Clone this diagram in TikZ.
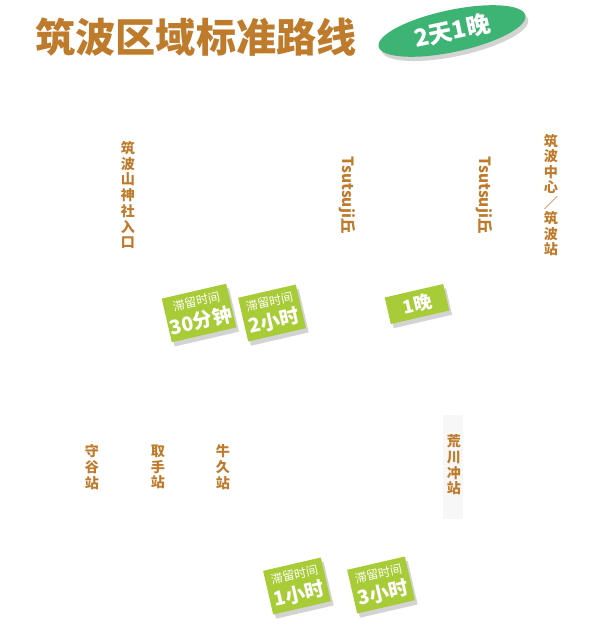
\documentclass[tikz,border=0pt]{standalone}
\usepackage{fontspec}
\setmainfont{Noto Sans CJK SC}
\usepackage{tikz}
\usetikzlibrary{positioning,shadows,shapes.geometric}
\definecolor{routebrown}{HTML}{BF7B2C}
\definecolor{badgegreen}{HTML}{3DB374}
\definecolor{taggreen}{HTML}{A8CB38}

\begin{document}
\begin{tikzpicture}[x=0.025cm, y=-0.025cm,
    headline/.style={font=\fontsize{28.5}{30}\selectfont\bfseries, text=routebrown, inner sep=0pt},
    badge/.style={ellipse, fill=badgegreen, minimum width=3.75cm, minimum height=1.05cm, inner sep=0pt, rotate=12, text=white, font=\fontsize{17}{18}\selectfont\bfseries, drop shadow={shadow xshift=2pt, shadow yshift=-3pt, opacity=0.35}},
    stop/.style={text=routebrown, font=\fontsize{10}{11.2}\selectfont\bfseries, align=center, inner sep=0pt},
    hill/.style={text=routebrown, font=\fontsize{11}{12}\selectfont\bfseries, rotate=-90, inner sep=0pt},
    staytag/.style={rectangle, fill=taggreen, rotate=13, minimum width=1.48cm, minimum height=1.12cm, inner sep=1pt, align=center, text=white, font=\fontsize{14}{16}\selectfont, drop shadow={shadow xshift=2pt, shadow yshift=-3pt, opacity=0.35}},
    nighttag/.style={rectangle, fill=taggreen, rotate=13, minimum width=1.5cm, minimum height=0.68cm, inner sep=1pt, text=white, font=\fontsize{13}{14}\selectfont\bfseries, drop shadow={shadow xshift=2pt, shadow yshift=-3pt, opacity=0.35}}
]
    \useasboundingbox (0,0) rectangle (600,624);

    % Title and badge
    \node (title) at (196,37) [headline] {筑波区域标准路线};
    \node (days) at (452,31) [badge] {2天1晚};

    % Upper stops
    \node (shrine) at (128,195) [stop] {筑\\波\\山\\神\\社\\入\\口};
    \node (hillA) at (347,195) [hill] {Tsutsuji丘};
    \node (hillB) at (484,195) [hill] {Tsutsuji丘};
    \node (center) at (551,195) [stop, font=\fontsize{10}{11}\selectfont\bfseries] {筑\\波\\中\\心\\／\\筑\\波\\站};

    % Stay times, upper row
    \node (stay30) at (199,313) [staytag] {{\fontsize{8.5}{9}\selectfont 滞留时间}\\{\bfseries 30分钟}};
    \node (stay2h) at (272,313) [staytag] {{\fontsize{8.5}{9}\selectfont 滞留时间}\\{\bfseries 2小时}};
    \node (night) at (417,304) [nighttag] {1晚};

    % Lower stops
    \node (moriya) at (92,467) [stop] {守\\谷\\站};
    \node (toride) at (158,467) [stop] {取\\手\\站};
    \node (ushiku) at (223,467) [stop] {牛\\久\\站};
    \node (strip) at (453,467) [rectangle, fill=black!3, minimum width=0.5cm, minimum height=2.6cm] {};
    \node (arakawa) at (454,465) [stop] {荒\\川\\冲\\站};

    % Stay times, lower row
    \node (stay1h) at (297,586) [staytag] {{\fontsize{8.5}{9}\selectfont 滞留时间}\\{\bfseries 1小时}};
    \node (stay3h) at (381,585) [staytag] {{\fontsize{8.5}{9}\selectfont 滞留时间}\\{\bfseries 3小时}};

\end{tikzpicture}
\end{document}
